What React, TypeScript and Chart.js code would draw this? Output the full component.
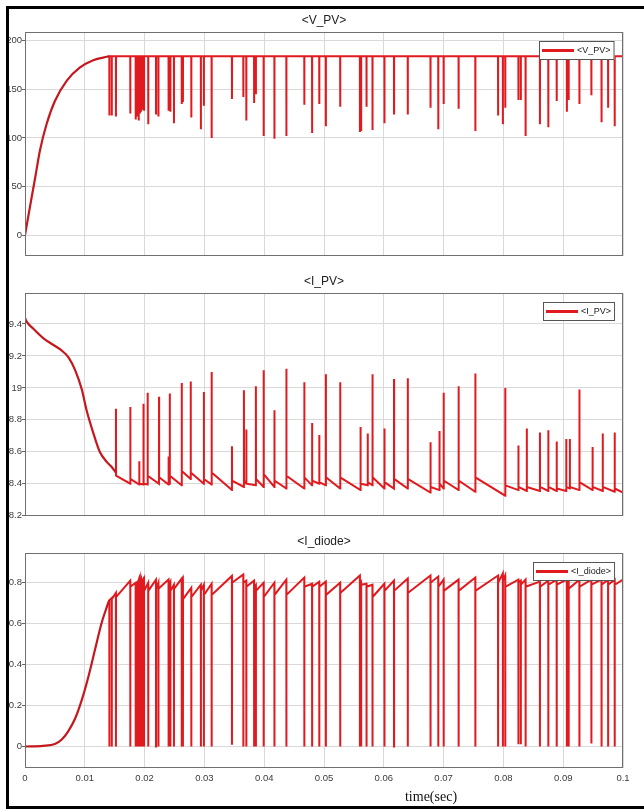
import React, { useEffect, useRef } from "react";
import { Chart, registerables } from "chart.js";

Chart.register(...registerables);

// ---------- shared x axis ----------
const xTicks = [0, 0.01, 0.02, 0.03, 0.04, 0.05, 0.06, 0.07, 0.08, 0.09, 0.1];
const xTickLabels = ["0", "0.01", "0.02", "0.03", "0.04", "0.05", "0.06", "0.07", "0.08", "0.09", "0.1"];

// switching instants (V_PV drops / I_diode drops)
const switchT = [
  0.0141, 0.0145, 0.0152, 0.0176, 0.0185, 0.0188, 0.019, 0.0192, 0.0194, 0.0197,
  0.0199, 0.0206, 0.0219, 0.0223, 0.024, 0.0243, 0.0249, 0.0262, 0.0264, 0.0278,
  0.0294, 0.0299, 0.0312, 0.0346, 0.0365, 0.037, 0.0383, 0.0386, 0.0399, 0.0417,
  0.0437, 0.0467, 0.048, 0.0492, 0.0503, 0.0527, 0.056, 0.0562, 0.0571, 0.0581,
  0.0601, 0.0617, 0.064, 0.0678, 0.0691, 0.07, 0.0725, 0.0753, 0.0791, 0.0799,
  0.0803, 0.0825, 0.0829, 0.0837, 0.0861, 0.0875, 0.0889, 0.0906, 0.0909, 0.0927,
  0.0947, 0.0964, 0.0975, 0.0986,
];

// ---------- <V_PV> ----------
const vpvTicks = [0, 50, 100, 150, 200];
const vpvTickLabels = ["0", "50", "100", "150", "200"];
const vpvRiseT = [0, 0.0008, 0.0017, 0.0025, 0.0036, 0.005, 0.007, 0.0092, 0.0114, 0.0137, 0.0141];
const vpvRiseV = [0, 28, 59, 87, 114, 138, 159, 172.5, 180, 183.5, 184];
const vpvPlateau = 184;
const vpvDropMin = [
  123, 123, 122, 125, 119, 122, 118, 125, 127, 129,
  128, 114, 125, 122, 128, 127, 115, 135, 137, 121,
  109, 133, 100, 140, 142, 118, 136, 145, 102, 99,
  102, 134, 105, 135, 112, 132, 106, 107, 132, 108,
  115, 125, 124, 131, 109, 135, 130, 107, 123, 114,
  131, 139, 139, 102, 114, 111, 138, 127, 139, 135,
  144, 116, 131, 112,
];

// ---------- <I_PV> ----------
const ipvTicks = [8.2, 8.4, 8.6, 8.8, 9.0, 9.2, 9.4];
const ipvTickLabels = ["8.2", "8.4", "8.6", "8.8", "19", "9.2", "9.4"];
const ipvRiseT = [0, 0.0002, 0.0014, 0.0031, 0.0047, 0.0061, 0.0073, 0.0084, 0.0095, 0.0103, 0.0114, 0.0125, 0.0137, 0.0145, 0.0152];
const ipvRiseV = [9.44, 9.42, 9.37, 9.31, 9.27, 9.235, 9.19, 9.11, 8.99, 8.86, 8.72, 8.6, 8.535, 8.505, 8.47];
const ipvSpikeT = [
  0.0152, 0.0176, 0.0191, 0.0198, 0.0205, 0.0224, 0.024, 0.0242, 0.0262, 0.0277,
  0.0299, 0.0312, 0.0346, 0.0366, 0.037, 0.0386, 0.0399, 0.0417, 0.0437, 0.0467,
  0.048, 0.0492, 0.0503, 0.0527, 0.0561, 0.0573, 0.0581, 0.0601, 0.0617, 0.064,
  0.0678, 0.0693, 0.07, 0.0725, 0.0753, 0.0803, 0.0825, 0.0839, 0.0861, 0.0875,
  0.0889, 0.0905, 0.0911, 0.0927, 0.0949, 0.0966, 0.0986,
];
const ipvSpikePeak = [
  8.87, 8.88, 8.54, 8.9, 8.97, 8.945, 8.57, 8.965, 9.03, 9.04,
  8.975, 9.1, 8.635, 8.985, 8.74, 9.01, 9.11, 8.86, 9.12, 9.035,
  8.78, 8.705, 9.085, 9.035, 8.755, 8.715, 9.085, 8.745, 9.055, 9.06,
  8.66, 8.73, 8.97, 9.01, 9.09, 9.0, 8.64, 8.745, 8.72, 8.735,
  8.665, 8.68, 8.68, 8.99, 8.63, 8.715, 8.72,
];
const ipvPreLevel = [
  8.47, 8.4, 8.395, 8.395, 8.395, 8.4, 8.395, 8.4, 8.39, 8.43,
  8.4, 8.395, 8.36, 8.38, 8.4, 8.39, 8.38, 8.38, 8.37, 8.37,
  8.39, 8.4, 8.39, 8.37, 8.36, 8.39, 8.39, 8.37, 8.37, 8.37,
  8.345, 8.36, 8.37, 8.36, 8.35, 8.325, 8.36, 8.355, 8.355, 8.355,
  8.355, 8.355, 8.37, 8.36, 8.36, 8.355, 8.35,
];
const ipvPostLevel = [
  8.45, 8.43, 8.4, 8.4, 8.45, 8.44, 8.42, 8.45, 8.48, 8.47,
  8.43, 8.47, 8.42, 8.42, 8.4, 8.43, 8.46, 8.42, 8.45, 8.44,
  8.42, 8.41, 8.44, 8.44, 8.4, 8.41, 8.44, 8.41, 8.43, 8.43,
  8.38, 8.4, 8.42, 8.42, 8.44, 8.39, 8.38, 8.38, 8.38, 8.38,
  8.37, 8.38, 8.38, 8.41, 8.38, 8.38, 8.37,
];
const ipvEndV = 8.345;

// ---------- <I_diode> ----------
const idTicks = [0, 0.2, 0.4, 0.6, 0.8];
const idTickLabels = ["0", "0.2", "0.4", "0.6", "0.8"];
const idRiseT = [0, 0.003, 0.005, 0.0061, 0.0072, 0.0084, 0.0095, 0.0106, 0.0117, 0.0128, 0.0137, 0.0141];
const idRiseV = [0, 0.003, 0.012, 0.033, 0.073, 0.138, 0.228, 0.341, 0.472, 0.602, 0.683, 0.715];
const idPeak = [
  0.715, 0.725, 0.75, 0.81, 0.8, 0.8, 0.81, 0.815, 0.815, 0.815,
  0.815, 0.8, 0.815, 0.8, 0.815, 0.805, 0.79, 0.82, 0.815, 0.775,
  0.79, 0.79, 0.795, 0.833, 0.84, 0.81, 0.81, 0.79, 0.8, 0.8,
  0.815, 0.825, 0.795, 0.805, 0.805, 0.8, 0.835, 0.8, 0.795, 0.79,
  0.795, 0.81, 0.82, 0.835, 0.83, 0.815, 0.815, 0.825, 0.835, 0.845,
  0.835, 0.815, 0.81, 0.815, 0.805, 0.81, 0.815, 0.815, 0.81, 0.815,
  0.815, 0.815, 0.815, 0.815,
];
const idDropMin = [
  0, 0, 0, 0, 0, 0, 0, 0, 0, 0,
  0, 0, 0, 0, 0, 0, 0, 0, 0, 0,
  0, 0, 0, 0.008, 0, 0, 0, 0, 0, 0,
  0, 0, 0, 0, 0, 0, 0, 0, 0, 0,
  0, 0, 0, 0, 0, 0, 0, 0, 0, 0,
  0, 0.011, 0.011, 0, 0, 0, 0, 0, 0, 0,
  0.015, 0, 0, 0,
];
const idRecover = [
  0.715, 0.72, 0.73, 0.78, 0.78, 0.79, 0.79, 0.8, 0.8, 0.8,
  0.76, 0.76, 0.77, 0.77, 0.79, 0.76, 0.77, 0.8, 0.72, 0.73,
  0.76, 0.74, 0.74, 0.8, 0.8, 0.78, 0.78, 0.76, 0.73, 0.74,
  0.74, 0.78, 0.78, 0.78, 0.74, 0.75, 0.79, 0.79, 0.78, 0.73,
  0.76, 0.76, 0.75, 0.8, 0.78, 0.76, 0.76, 0.76, 0.8, 0.81,
  0.78, 0.8, 0.79, 0.78, 0.78, 0.79, 0.79, 0.79, 0.77, 0.78,
  0.79, 0.79, 0.79, 0.79,
];
const idEndV = 0.815;

// ---------- styling ----------
const RED = "rgb(224, 26, 30)";
const RED_DARK = "rgb(196, 24, 30)";
const GRID = "#d9d9d9";
const FONT = "'Liberation Sans', Arial, sans-serif";
const TICK_COLOR = "#3a3a3a";
const T_END = 0.1;

type P = { x: number; y: number };

function zipPts(ts: number[], vs: number[]): P[] {
  return ts.map((t, i) => ({ x: t, y: vs[i] }));
}

function buildVpv(): P[] {
  const pts: P[] = [];
  switchT.forEach((t, i) => {
    pts.push({ x: t, y: vpvPlateau });
    pts.push({ x: t + 0.00001, y: vpvDropMin[i] });
    pts.push({ x: t + 0.000025, y: vpvPlateau });
  });
  pts.push({ x: T_END, y: vpvPlateau });
  return pts;
}

function buildIpv(): P[] {
  const pts: P[] = [];
  ipvSpikeT.forEach((t, i) => {
    pts.push({ x: t, y: ipvPreLevel[i] });
    pts.push({ x: t + 0.00001, y: ipvSpikePeak[i] });
    pts.push({ x: t + 0.00003, y: ipvPostLevel[i] });
  });
  pts.push({ x: T_END, y: ipvEndV });
  return pts;
}

function buildId(): P[] {
  const pts: P[] = [];
  switchT.forEach((t, i) => {
    pts.push({ x: t, y: idPeak[i] });
    pts.push({ x: t + 0.00001, y: idDropMin[i] });
    pts.push({ x: t + 0.000025, y: idRecover[i] });
  });
  pts.push({ x: T_END, y: idEndV });
  return pts;
}

function decorPlugin(title: string, withTimeLabel: boolean) {
  return {
    id: "decor",
    afterDatasetsDraw(chart: any) {
      const { ctx, chartArea: a } = chart;
      const label = chart.data.datasets[0].label as string;
      ctx.save();
      // plot box
      ctx.strokeStyle = "#707070";
      ctx.lineWidth = 1;
      ctx.strokeRect(a.left + 0.5, a.top + 0.5, a.right - a.left - 1, a.bottom - a.top - 1);
      // title
      ctx.fillStyle = "#222";
      ctx.font = `12px ${FONT}`;
      ctx.textAlign = "center";
      ctx.textBaseline = "middle";
      ctx.fillText(title, (a.left + a.right) / 2, a.top - 11);
      // legend box
      ctx.font = `9px ${FONT}`;
      const tw = ctx.measureText(label).width;
      const w = 3 + 32 + 3 + tw + 4;
      const h = 19;
      const lx = Math.round(a.right - 8 - w);
      const ly = Math.round(a.top + 9);
      ctx.fillStyle = "#fff";
      ctx.fillRect(lx, ly, w, h);
      ctx.strokeStyle = "#555";
      ctx.lineWidth = 1;
      ctx.strokeRect(lx + 0.5, ly + 0.5, w - 1, h - 1);
      ctx.strokeStyle = RED;
      ctx.lineWidth = 3;
      ctx.beginPath();
      ctx.moveTo(lx + 3, ly + h / 2);
      ctx.lineTo(lx + 35, ly + h / 2);
      ctx.stroke();
      ctx.fillStyle = "#222";
      ctx.textAlign = "left";
      ctx.fillText(label, lx + 38, ly + h / 2 + 0.5);
      if (withTimeLabel) {
        ctx.font = `14px 'Liberation Serif', 'Times New Roman', serif`;
        ctx.fillStyle = "#111";
        ctx.textAlign = "center";
        ctx.fillText("time(sec)", 431, a.bottom + 29);
      }
      ctx.restore();
    },
  };
}

function makeConfig(o: {
  label: string;
  rise: P[];
  data: P[];
  yMin: number;
  yMax: number;
  yTicks: number[];
  yLabels: string[];
  showX: boolean;
  padTop: number;
  padBottom: number;
  xHeight: number;
}) {
  return {
    type: "line",
    data: {
      datasets: [
        {
          label: o.label,
          data: o.rise,
          borderColor: RED_DARK,
          borderWidth: 2.2,
          pointRadius: 0,
          cubicInterpolationMode: "monotone",
          tension: 0.4,
          fill: false,
        },
        {
          label: o.label,
          data: o.data,
          borderColor: RED,
          borderWidth: 2,
          pointRadius: 0,
          tension: 0,
          fill: false,
        },
      ],
    },
    options: {
      responsive: false,
      animation: false,
      parsing: false,
      normalized: true,
      events: [],
      layout: { padding: { left: 0, right: 21, top: o.padTop, bottom: o.padBottom } },
      plugins: {
        legend: { display: false },
        title: { display: false },
        tooltip: { enabled: false },
      },
      scales: {
        x: {
          type: "linear",
          min: 0,
          max: T_END,
          afterBuildTicks: (s: any) => {
            s.ticks = xTicks.map((v) => ({ value: v }));
          },
          afterFit: (s: any) => {
            s.height = o.xHeight;
          },
          ticks: {
            display: o.showX,
            autoSkip: false,
            maxRotation: 0,
            minRotation: 0,
            padding: 5,
            color: TICK_COLOR,
            font: { family: FONT, size: 9.5 },
            callback: (_v: any, i: number) => xTickLabels[i],
          },
          grid: { color: GRID, lineWidth: 1, drawTicks: false },
          border: { display: false },
        },
        y: {
          type: "linear",
          min: o.yMin,
          max: o.yMax,
          afterBuildTicks: (s: any) => {
            s.ticks = o.yTicks.map((v) => ({ value: v }));
          },
          afterFit: (s: any) => {
            s.width = 25;
          },
          ticks: {
            autoSkip: false,
            padding: 0,
            color: TICK_COLOR,
            font: { family: FONT, size: 9.5 },
            callback: (_v: any, i: number) => o.yLabels[i],
          },
          grid: { color: GRID, lineWidth: 1, drawTicks: true, tickLength: 3, tickColor: "#666" },
          border: { display: false },
        },
      },
    },
  };
}

export default function App() {
  const r1 = useRef<HTMLCanvasElement>(null);
  const r2 = useRef<HTMLCanvasElement>(null);
  const r3 = useRef<HTMLCanvasElement>(null);

  useEffect(() => {
    const c1: any = makeConfig({
      label: "<V_PV>",
      rise: zipPts(vpvRiseT, vpvRiseV),
      data: buildVpv(),
      yMin: -21.6,
      yMax: 209,
      yTicks: vpvTicks,
      yLabels: vpvTickLabels,
      showX: false,
      padTop: 32,
      padBottom: 14,
      xHeight: 0,
    });
    c1.plugins = [decorPlugin("<V_PV>", false)];
    const c2: any = makeConfig({
      label: "<I_PV>",
      rise: zipPts(ipvRiseT, ipvRiseV),
      data: buildIpv(),
      yMin: 8.198,
      yMax: 9.594,
      yTicks: ipvTicks,
      yLabels: ipvTickLabels,
      showX: false,
      padTop: 23,
      padBottom: 14,
      xHeight: 0,
    });
    c2.plugins = [decorPlugin("<I_PV>", false)];
    const c3: any = makeConfig({
      label: "<I_diode>",
      rise: zipPts(idRiseT, idRiseV),
      data: buildId(),
      yMin: -0.105,
      yMax: 0.945,
      yTicks: idTicks,
      yLabels: idTickLabels,
      showX: true,
      padTop: 23,
      padBottom: 0,
      xHeight: 42,
    });
    c3.plugins = [decorPlugin("<I_diode>", true)];
    const charts = [
      new Chart(r1.current as HTMLCanvasElement, c1),
      new Chart(r2.current as HTMLCanvasElement, c2),
      new Chart(r3.current as HTMLCanvasElement, c3),
    ];
    return () => charts.forEach((c) => c.destroy());
  }, []);

  const cv = (top: number, h: number): React.CSSProperties => ({
    position: "absolute",
    left: 0,
    top,
    width: 644,
    height: h,
    display: "block",
  });

  return (
    <div
      style={{
        position: "fixed",
        left: 0,
        top: 0,
        width: 644,
        height: 810,
        overflow: "hidden",
        background: "#fff",
      }}
    >
      <canvas ref={r1} width={644} height={270} style={cv(0, 270)} />
      <canvas ref={r2} width={644} height={260} style={cv(270, 260)} />
      <canvas ref={r3} width={644} height={280} style={cv(530, 280)} />
      <div
        style={{
          position: "absolute",
          left: 6,
          top: 6,
          width: 700,
          height: 797,
          border: "3px solid #000",
          pointerEvents: "none",
        }}
      />
    </div>
  );
}
